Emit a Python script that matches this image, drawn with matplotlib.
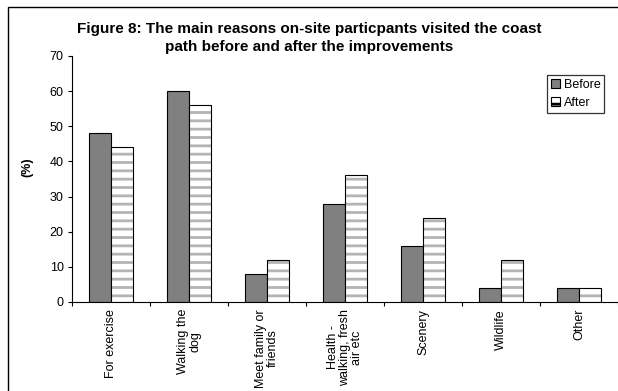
import numpy as np
import matplotlib
matplotlib.use("Agg")
import matplotlib.pyplot as plt
from matplotlib.patches import Rectangle

plt.rcParams['font.family'] = ['Liberation Sans', 'DejaVu Sans']
plt.rcParams['hatch.linewidth'] = 2.0

categories = ["For exercise", "Walking the\ndog", "Meet family or\nfriends",
              "Health -\nwalking, fresh\nair etc", "Scenery", "Wildlife", "Other"]
before = [48, 60, 8, 28, 16, 4, 4]
after = [44, 56, 12, 36, 24, 12, 4]
yticks = [0, 10, 20, 30, 40, 50, 60, 70]

fig = plt.figure(figsize=(6.18, 3.91), dpi=100)
ax = fig.add_axes([72/618, 1 - 302/391, 1 - 72/618, (302 - 56)/391])

x = np.arange(len(categories))
w = 0.285
ax.bar(x - w/2, before, w, color='#808080', edgecolor='black', linewidth=0.8, label='Before')
# gray stripes first, then a black outline on top
ax.bar(x + w/2, after, w, color='white', edgecolor='#b4b4b4', linewidth=0, hatch='--', label='After')
ax.bar(x + w/2, after, w, fill=False, edgecolor='black', linewidth=0.8)

ax.set_xlim(-0.5, len(categories) - 0.5)
ax.set_ylim(0, 70)
ax.set_yticks(yticks)
ax.tick_params(axis='y', labelsize=9, length=3, width=0.8, direction='out', pad=3)

# ticks sit between groups, labels under the groups
ax.set_xticks(np.arange(len(categories) + 1) - 0.5)
ax.set_xticklabels([])
ax.set_xticks(x, minor=True)
ax.set_xticklabels(categories, minor=True, rotation=90, fontsize=9,
                   va='top', ha='center', multialignment='center', linespacing=1.0)
ax.tick_params(axis='x', which='major', length=3, width=0.8, direction='out')
ax.tick_params(axis='x', which='minor', length=0, pad=5)

for s in ['top', 'right']:
    ax.spines[s].set_visible(False)
for s in ['left', 'bottom']:
    ax.spines[s].set_linewidth(0.8)

ax.set_ylabel('(%)', fontsize=9, fontweight='bold')
ax.yaxis.set_label_coords(-0.07, 0.55)

leg = fig.legend(loc='upper left', bbox_to_anchor=(547/618, 1 - 75/391), fontsize=9,
                 frameon=True, fancybox=False, shadow=False, handlelength=0.7,
                 handleheight=0.7, handletextpad=0.35, borderpad=0.3, labelspacing=0.5,
                 borderaxespad=0)
leg.get_frame().set_edgecolor('black')
leg.get_frame().set_linewidth(0.9)
for h in leg.legend_handles:
    h.set_linewidth(0.8)
    h.set_edgecolor('black')

fig.text(0.5, 1 - 38/391, "Figure 8: The main reasons on-site particpants visited the coast\n"
         "path before and after the improvements", ha='center', va='center',
         multialignment='center', fontsize=11, fontweight='bold', linespacing=1.3)

fig.patches.append(Rectangle((8/618, -0.1), 1.2, 1.1 - 7/391, transform=fig.transFigure,
                             fill=False, edgecolor='black', linewidth=1.0))

fig.savefig('out.png', dpi=100)
